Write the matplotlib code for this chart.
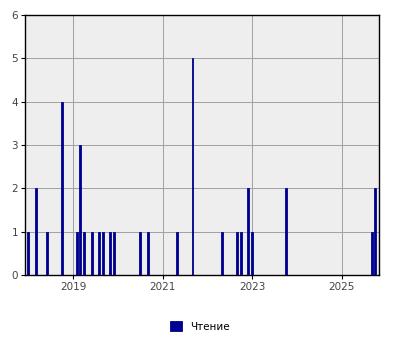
import datetime as dt
import matplotlib
matplotlib.use("Agg")
import matplotlib.pyplot as plt
import matplotlib.dates as mdates

# месяцы (первое число) и количество
months = [
    "2018-01", "2018-03", "2018-06", "2018-10",
    "2019-02", "2019-03", "2019-04", "2019-06", "2019-08", "2019-09",
    "2019-11", "2019-12", "2020-07", "2020-09", "2021-05", "2021-09",
    "2022-05", "2022-09", "2022-10", "2022-12", "2023-01", "2023-10",
    "2025-09", "2025-10",
]
counts = [1, 2, 1, 4,
          1, 3, 1, 1, 1, 1,
          1, 1, 1, 1, 1, 5,
          1, 1, 1, 2, 1, 2,
          1, 2]
series_name = "Чтение"
year_ticks = [2019, 2021, 2023, 2025]

dates = [dt.datetime.strptime(m, "%Y-%m") for m in months]

fig = plt.figure(figsize=(4, 3.5), dpi=100)
ax = fig.add_axes([0.0625, 0.214, 0.885, 0.743])
ax.set_facecolor("#eeeeee")

ax.bar(dates, counts, width=16, color="#000090", edgecolor="#000090",
       linewidth=0.6, label=series_name, zorder=3)

ax.set_xlim(dt.datetime(2017, 12, 4), dt.datetime(2025, 11, 1))
ax.set_ylim(0, 6)
ax.set_xticks([dt.datetime(y, 1, 1) for y in year_ticks])
ax.xaxis.set_major_formatter(mdates.DateFormatter("%Y"))
ax.set_yticks(range(0, 7))

ax.grid(True, color="#a0a0a0", linewidth=0.7, zorder=0)
for s in ax.spines.values():
    s.set_color("black")
    s.set_linewidth(1)
ax.tick_params(labelsize=7.5, labelcolor="#444444", length=3, width=0.8, pad=2)

fig.legend(loc="lower center", bbox_to_anchor=(0.5, 0.023), frameon=False,
           fontsize=7.5, handlelength=1.15, handleheight=1.15, borderaxespad=0.6)

fig.savefig("out.png", dpi=100)
